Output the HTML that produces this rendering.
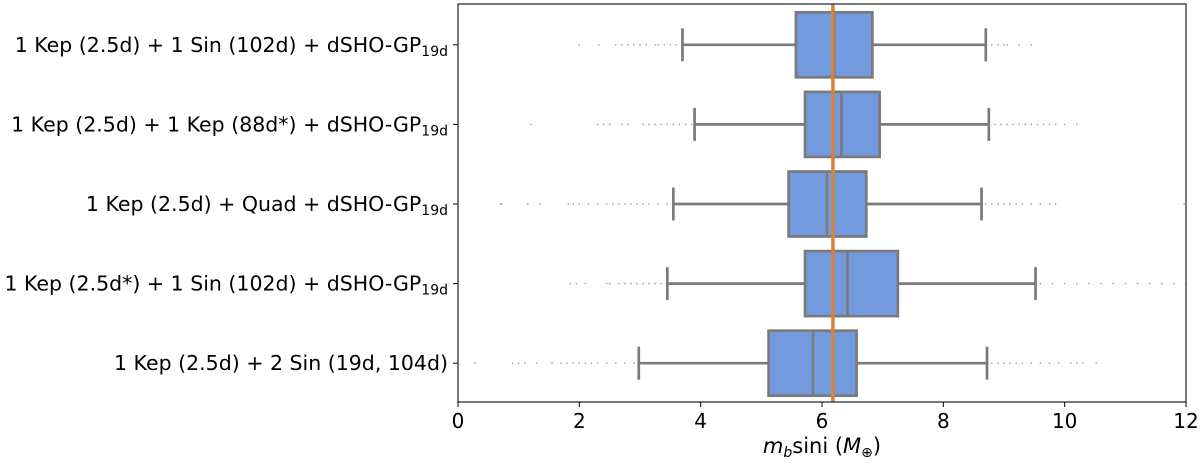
<!DOCTYPE html>
<html><head><meta charset="utf-8"><style>
body{margin:0;background:#fff;}
svg text{font-family:"DejaVu Sans","Liberation Sans",sans-serif;fill:#000;}
</style></head><body>
<svg id="chart" width="1200" height="462" viewBox="0 0 1200 462" xmlns="http://www.w3.org/2000/svg"></svg>
<script>
const categories=["1 Kep (2.5d) + 1 Sin (102d) + dSHO-GP","1 Kep (2.5d) + 1 Kep (88d*) + dSHO-GP","1 Kep (2.5d) + Quad + dSHO-GP","1 Kep (2.5d*) + 1 Sin (102d) + dSHO-GP","1 Kep (2.5d) + 2 Sin (19d, 104d)"];
const subs=["19d","19d","19d","19d",""];
const whiskLo=[3.7,3.9,3.55,3.45,2.98];
const q1=[5.57,5.72,5.45,5.72,5.12];
const median=[6.2,6.32,6.08,6.42,5.85];
const q3=[6.83,6.95,6.73,7.25,6.57];
const whiskHi=[8.7,8.75,8.63,9.52,8.72];
const outliers=[
 [2.0,2.32,2.6,2.7,2.8,2.9,3.0,3.1,3.25,3.3,3.4,3.5,3.6,8.8,8.9,9.0,9.05,9.25,9.45],
 [1.2,2.3,2.4,2.5,2.7,2.8,3.05,3.15,3.25,3.35,3.45,3.55,3.65,3.75,3.85,8.85,8.95,9.05,9.15,9.25,9.35,9.45,9.55,9.65,9.75,9.85,10.0,10.2],
 [0.7,0.72,1.15,1.35,1.82,1.9,2.0,2.15,2.3,2.45,2.55,2.65,2.75,2.85,2.95,3.05,3.15,3.3,3.45,8.7,8.8,8.9,9.0,9.1,9.2,9.3,9.45,9.6,9.75,9.85,11.97],
 [1.85,1.95,2.1,2.45,2.5,2.65,2.75,2.85,2.95,3.05,3.15,3.25,3.35,9.6,9.8,10.0,10.2,10.4,10.6,10.8,11.0,11.2,11.4,11.6,11.8,12.0],
 [0.28,0.9,1.0,1.1,1.3,1.55,1.7,1.8,1.9,2.0,2.1,2.2,2.3,2.45,2.6,2.75,2.9,8.8,8.9,9.0,9.1,9.2,9.3,9.45,9.6,9.75,9.9,10.1,10.2,10.3,10.52]
];
const refValue=6.18;
const xTicks=[0,2,4,6,8,10,12];

const NS="http://www.w3.org/2000/svg";
const svg=document.getElementById('chart');
const L=458,R=1186,T=4,B=402;
const x=v=>L+(v-0)/(12-0)*(R-L);
const band=(B-T)/categories.length;
const yc=i=>T+1+band*(i+0.5);
function mk(tag,attrs,parent){const e=document.createElementNS(NS,tag);for(const k in attrs)e.setAttribute(k,attrs[k]);(parent||svg).appendChild(e);return e;}
const gray="#7a7a7a";
categories.forEach((c,i)=>{
  const g=mk('g',{});
  
  
  const y=yc(i),h=65;
  outliers[i].forEach(v=>{const d=mk('rect',{x:x(v)-0.7,y:y-0.7,width:1.4,height:1.4,fill:"#999"},g);
    });
  const wl=mk('line',{x1:x(whiskLo[i]),x2:x(q1[i]),y1:y,y2:y,stroke:gray,'stroke-width':2.7},g);
  
  const wh=mk('line',{x1:x(q3[i]),x2:x(whiskHi[i]),y1:y,y2:y,stroke:gray,'stroke-width':2.7},g);
  
  [whiskLo[i],whiskHi[i]].forEach(v=>{const cp=mk('line',{x1:x(v),x2:x(v),y1:y-16.5,y2:y+16.5,stroke:gray,'stroke-width':2.7},g);
    });
  const bx=mk('rect',{x:x(q1[i]),y:y-h/2,width:x(q3[i])-x(q1[i]),height:h,fill:"#739ade",stroke:gray,'stroke-width':2.7},g);
  
  const md=mk('line',{x1:x(median[i]),x2:x(median[i]),y1:y-h/2,y2:y+h/2,stroke:gray,'stroke-width':2.7},g);
  
  const tk=mk('line',{x1:L-5,x2:L,y1:y,y2:y,stroke:"#000",'stroke-width':1});
  
  const t=mk('text',{x:L-10,y:y+7,'text-anchor':'end','font-size':20.5});
  
  t.appendChild(document.createTextNode(c));
  if(subs[i]){const s=mk('tspan',{'font-size':14,dy:4},t);s.textContent=subs[i];}
});
const ref=mk('line',{x1:x(refValue),x2:x(refValue),y1:T,y2:B,stroke:"#d4843c",'stroke-width':3.5});

const frame=mk('rect',{x:L,y:T,width:R-L,height:B-T,fill:"none",stroke:"#222",'stroke-width':1.2});

xTicks.forEach(v=>{
  const tk=mk('line',{x1:x(v),x2:x(v),y1:B,y2:B+5,stroke:"#000",'stroke-width':1});
  
  const t=mk('text',{x:x(v),y:B+26,'text-anchor':'middle','font-size':20});
  
  t.textContent=v;
});
const xt=mk('text',{x:(L+R)/2,y:453,'text-anchor':'middle','font-size':21});

xt.innerHTML='<tspan font-style="italic">m</tspan><tspan font-style="italic" font-size="14" dy="4">b</tspan><tspan dy="-4">sini (</tspan><tspan font-style="italic">M</tspan><tspan font-size="14" dy="4">⊕</tspan><tspan dy="-4">)</tspan>';
</script>
</body></html>
